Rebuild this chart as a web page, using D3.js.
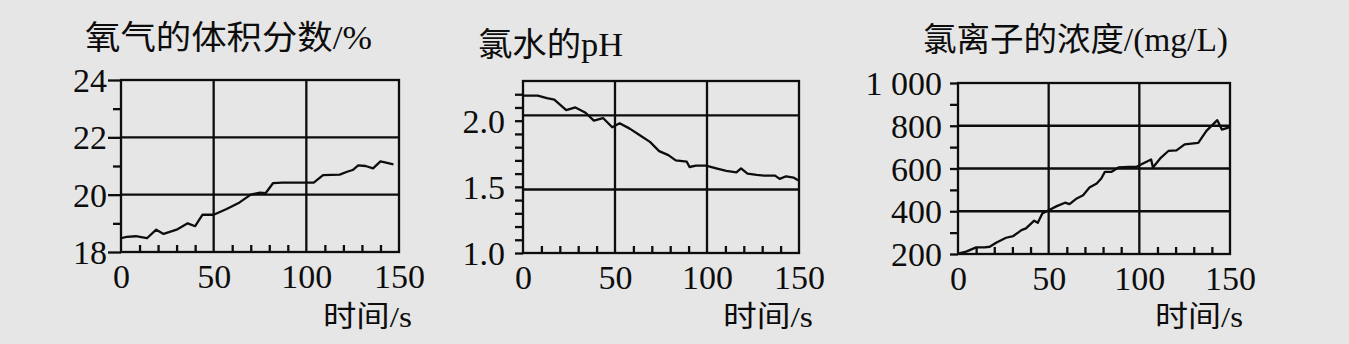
<!DOCTYPE html>
<html>
<head>
<meta charset="utf-8">
<script src="https://cdn.jsdelivr.net/npm/d3@7/dist/d3.min.js"></script>
<style>
body { margin: 0; background: #e6e6e6; }
svg { display: block; }
</style>
</head>
<body>
<script>
var w = 1349;
var h = 344;

// shared time axis
var timeTicks = [0, 50, 100, 150];
var timeMinor = [10, 20, 30, 40, 60, 70, 80, 90, 110, 120, 130, 140];
var timeGrid = [50, 100];

var titles = ["氧气的体积分数/%", "氯水的pH", "氯离子的浓度/(mg/L)"];
var xTitle = "时间/s";

// oxygen volume fraction (%)
var o2Ticks = [18, 20, 22, 24];
var o2Minor = [19, 21, 23];
var o2Grid = [20, 22];
var o2Data = [[0, 18.48], [3, 18.53], [8, 18.55], [14, 18.48], [19, 18.78], [23, 18.63],
    [30, 18.78], [36, 19.0], [40, 18.9], [44, 19.3], [50, 19.3], [57, 19.5], [64, 19.73],
    [70, 20.0], [75, 20.07], [78, 20.05], [82, 20.4], [87, 20.42], [104, 20.42], [109, 20.68],
    [118, 20.7], [122, 20.8], [125, 20.86], [128, 21.02], [132, 21.0], [136, 20.92],
    [140, 21.16], [143, 21.12], [147, 21.06]];

// pH of chlorine water
var phTicks = [1.0, 1.5, 2.0];
var phMinor = [1.1, 1.2, 1.3, 1.4, 1.6, 1.7, 1.8, 1.9, 2.1, 2.2];
var phGrid = [1.48, 2.04];
var phData = [[0, 2.19], [8, 2.19], [13, 2.17], [17, 2.16], [23.5, 2.08], [28.5, 2.10],
    [34, 2.06], [38.5, 2.0], [43.5, 2.02], [48.5, 1.95], [52.5, 1.98], [58, 1.94], [63.5, 1.89],
    [69, 1.84], [74, 1.77], [79, 1.74], [83, 1.70], [89, 1.69], [90.5, 1.65], [94, 1.66],
    [99.5, 1.66], [105, 1.64], [110.5, 1.62], [116, 1.61], [118.5, 1.64], [122, 1.60],
    [127, 1.59], [131, 1.585], [137, 1.585], [139.5, 1.56], [143, 1.58], [147, 1.57], [149.5, 1.55]];

// chloride concentration (mg/L)
var clTicks = [200, 400, 600, 800, 1000];
var clMinor = [300, 500, 700, 900];
var clGrid = [400, 600, 800];
var clData = [[0.5, 203], [4.5, 211], [10, 231], [14.5, 231], [17.5, 234], [21, 253],
    [26.5, 276], [30.5, 284], [35, 312], [37.5, 320], [42, 356], [44, 346], [46.5, 390],
    [50, 405], [54.5, 424], [59, 440], [61.5, 433], [65.5, 460], [69, 475], [72.5, 511],
    [76.5, 530], [79, 553], [81, 584], [84.5, 584], [88.5, 605], [94, 608], [98.5, 608],
    [102, 623], [106.5, 642], [107.5, 605], [111.5, 647], [116, 682], [120.5, 685],
    [125, 713], [132.5, 720], [137, 776], [143, 826], [145.5, 782], [150, 794]];

var spaceLocale = d3.formatLocale({decimal: ".", thousands: " ", grouping: [3], currency: ["", ""]});

var panels = [
    {left: 121, right: 399, top: 80, bottom: 252, domain: [18, 24], ticks: o2Ticks, minor: o2Minor,
     grid: o2Grid, data: o2Data, fmt: d3.format("d"), tickLen: 13, pad: 1,
     title: titles[0], titleX: 85, titleY: 49, titleLen: 287, xtX: 323, xtLen: 89},
    {left: 523, right: 799, top: 81, bottom: 253, domain: [1.0, 2.3], ticks: phTicks, minor: phMinor,
     grid: phGrid, data: phData, fmt: d3.format(".1f"), tickLen: 8, pad: 10,
     title: titles[1], titleX: 478, titleY: 56, titleLen: 145, xtX: 723, xtLen: 90},
    {left: 958, right: 1230, top: 83, bottom: 254, domain: [200, 1000], ticks: clTicks, minor: clMinor,
     grid: clGrid, data: clData, fmt: spaceLocale.format(",d"), tickLen: 8, pad: 8,
     title: titles[2], titleX: 923, titleY: 51, titleLen: 305, xtX: 1155, xtLen: 88}
];

var ink = "#0d0d0d";
var sw = 2.3;
var numFont = "'Liberation Serif', 'Times New Roman', serif";
var textFont = "'Liberation Serif', 'Noto Sans CJK SC', serif";

var svg = d3.select("body")
    .append("svg")
    .attr("width", w)
    .attr("height", h)
    .style("color", ink);

panels.forEach(function(p){
    var x = d3.scaleLinear().domain([0, 150]).range([p.left, p.right]);
    var y = d3.scaleLinear().domain(p.domain).range([p.bottom, p.top]);
    var g = svg.append("g");

    // grid lines
    g.selectAll(".hgrid")
        .data(p.grid)
        .enter()
        .append("line")
        .attr("x1", p.left).attr("x2", p.right)
        .attr("y1", function(d){ return y(d); })
        .attr("y2", function(d){ return y(d); })
        .attr("stroke", ink).attr("stroke-width", sw);

    g.selectAll(".vgrid")
        .data(timeGrid)
        .enter()
        .append("line")
        .attr("y1", p.top).attr("y2", p.bottom)
        .attr("x1", function(d){ return x(d); })
        .attr("x2", function(d){ return x(d); })
        .attr("stroke", ink).attr("stroke-width", sw);

    // y minor ticks, outside
    var yMin = g.append("g")
        .attr("transform", "translate(" + p.left + ",0)")
        .call(d3.axisLeft(y).tickValues(p.minor).tickSize(8).tickFormat(""));
    yMin.select(".domain").remove();
    yMin.selectAll("line").attr("stroke-width", sw);

    // y labels
    var yAx = g.append("g")
        .attr("transform", "translate(" + p.left + ",0)")
        .call(d3.axisLeft(y).tickValues(p.ticks).tickSize(p.tickLen).tickPadding(p.pad).tickFormat(p.fmt));
    yAx.select(".domain").remove();
    yAx.selectAll("line").attr("stroke-width", sw);
    yAx.selectAll("text")
        .attr("font-family", numFont)
        .attr("font-size", 34)
        .attr("dy", "0.34em");

    // x minor ticks, inside
    var xMin = g.append("g")
        .attr("transform", "translate(0," + p.bottom + ")")
        .call(d3.axisBottom(x).tickValues(timeMinor).tickSize(-7).tickFormat(""));
    xMin.select(".domain").remove();
    xMin.selectAll("line").attr("stroke-width", sw);

    // x labels
    var xAx = g.append("g")
        .attr("transform", "translate(0," + p.bottom + ")")
        .call(d3.axisBottom(x).tickValues(timeTicks).tickSize(0).tickPadding(12));
    xAx.select(".domain").remove();
    xAx.selectAll("text")
        .attr("font-family", numFont)
        .attr("font-size", 34);

    // frame
    g.append("rect")
        .attr("x", p.left).attr("y", p.top)
        .attr("width", p.right - p.left)
        .attr("height", p.bottom - p.top)
        .attr("fill", "none")
        .attr("stroke", ink).attr("stroke-width", sw);

    // data line
    var line = d3.line()
        .x(function(d){ return x(d[0]); })
        .y(function(d){ return y(d[1]); });

    g.append("path")
        .datum(p.data)
        .attr("d", line)
        .attr("fill", "none")
        .attr("stroke", ink)
        .attr("stroke-width", sw)
        .attr("stroke-linejoin", "round");

    // titles
    g.append("text")
        .attr("x", p.titleX).attr("y", p.titleY)
        .attr("font-family", textFont)
        .attr("font-size", 33)
        .attr("fill", ink)
        .attr("textLength", p.titleLen)
        .attr("lengthAdjust", "spacingAndGlyphs")
        .text(p.title);

    g.append("text")
        .attr("x", p.xtX).attr("y", 327)
        .attr("font-family", textFont)
        .attr("font-size", 29)
        .attr("fill", ink)
        .attr("textLength", p.xtLen)
        .attr("lengthAdjust", "spacingAndGlyphs")
        .text(xTitle);
});
</script>
</body>
</html>
